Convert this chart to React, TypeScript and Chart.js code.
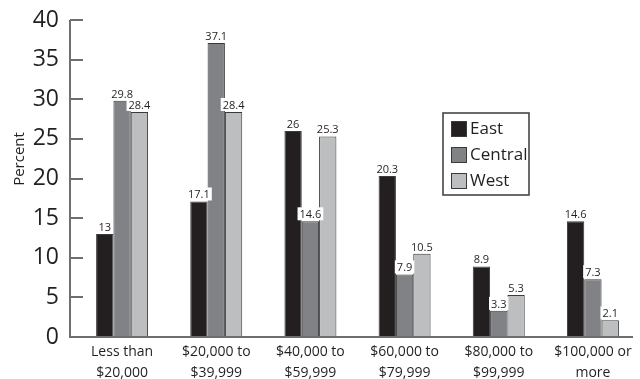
import React, { useEffect, useRef } from "react";
import { Chart, registerables } from "chart.js";

Chart.register(...registerables);

// Income brackets (two-line category labels)
const categories: string[][] = [
  ["Less than", "$20,000"],
  ["$20,000 to", "$39,999"],
  ["$40,000 to", "$59,999"],
  ["$60,000 to", "$79,999"],
  ["$80,000 to", "$99,999"],
  ["$100,000 or", "more"],
];

// Percent of households per region
const eastValues = [13, 17.1, 26, 20.3, 8.9, 14.6];
const centralValues = [29.8, 37.1, 14.6, 7.9, 3.3, 7.3];
const westValues = [28.4, 28.4, 25.3, 10.5, 5.3, 2.1];

const yTicks = [0, 5, 10, 15, 20, 25, 30, 35, 40];

const FONT = "'Open Sans', 'Noto Sans', sans-serif";
const TEXT = "#231f20";
const AXIS = "#6d6e71";
const EDGE = "#3a3a3c";

const seriesNames = ["East", "Central", "West"];
const seriesColors = ["#231f20", "#808285", "#bcbec0"];

// Axis lines, inward tick marks, value labels, y title and boxed legend
const decorations = {
  id: "decorations",
  afterDatasetsDraw(chart: any) {
    const ctx = chart.ctx as CanvasRenderingContext2D;
    const area = chart.chartArea;
    const y = chart.scales.y;
    const axisX = area.left - 5;

    ctx.save();

    // value labels above bars
    ctx.font = `11px ${FONT}`;
    ctx.textAlign = "center";
    ctx.textBaseline = "alphabetic";
    chart.data.datasets.forEach((ds: any, di: number) => {
      const meta = chart.getDatasetMeta(di);
      meta.data.forEach((bar: any, i: number) => {
        const label = String(ds.data[i]);
        const w = ctx.measureText(label).width + 4;
        ctx.fillStyle = "#ffffff";
        ctx.fillRect(bar.x - w / 2, bar.y - 14, w, 13);
        ctx.fillStyle = TEXT;
        ctx.fillText(label, bar.x, bar.y - 3);
      });
    });

    // axes
    ctx.strokeStyle = AXIS;
    ctx.lineWidth = 2;
    ctx.beginPath();
    ctx.moveTo(axisX, area.top);
    ctx.lineTo(axisX, area.bottom + 1);
    ctx.moveTo(axisX, area.bottom);
    ctx.lineTo(area.right - 7, area.bottom);
    yTicks.forEach((t) => {
      const py = Math.round(y.getPixelForValue(t));
      ctx.moveTo(axisX, py);
      ctx.lineTo(axisX + 13, py);
    });
    ctx.stroke();

    // y-axis title
    ctx.fillStyle = TEXT;
    ctx.font = `15px ${FONT}`;
    ctx.translate(20, 159);
    ctx.rotate(-Math.PI / 2);
    ctx.textAlign = "center";
    ctx.textBaseline = "middle";
    ctx.fillText("Percent", 0, 0);
    ctx.setTransform(1, 0, 0, 1, 0, 0);

    // legend
    const lx = 443;
    const ly = 113;
    ctx.fillStyle = "#ffffff";
    ctx.fillRect(lx, ly, 86, 82);
    ctx.strokeStyle = EDGE;
    ctx.lineWidth = 1.5;
    ctx.strokeRect(lx, ly, 86, 82);
    ctx.font = `17px ${FONT}`;
    ctx.textAlign = "left";
    ctx.textBaseline = "middle";
    seriesNames.forEach((name, i) => {
      const cy = 129 + i * 26;
      ctx.fillStyle = seriesColors[i];
      ctx.fillRect(451, cy - 8, 16, 16);
      ctx.strokeStyle = EDGE;
      ctx.lineWidth = 1;
      ctx.strokeRect(451.5, cy - 7.5, 15, 15);
      ctx.fillStyle = TEXT;
      ctx.fillText(name, 470, cy);
    });

    ctx.restore();
  },
};

export default function App() {
  const canvasRef = useRef<HTMLCanvasElement | null>(null);

  useEffect(() => {
    document.body.style.margin = "0";
    const canvas = canvasRef.current;
    if (!canvas) return;

    const makeSet = (label: string, data: number[], color: string) => ({
      label,
      data,
      backgroundColor: color,
      borderColor: EDGE,
      borderWidth: 1,
      barPercentage: 1,
      categoryPercentage: 0.552,
    });

    const chart = new Chart(canvas, {
      type: "bar",
      data: {
        labels: categories,
        datasets: [
          makeSet(seriesNames[0], eastValues, seriesColors[0]),
          makeSet(seriesNames[1], centralValues, seriesColors[1]),
          makeSet(seriesNames[2], westValues, seriesColors[2]),
        ],
      },
      options: {
        animation: false,
        responsive: false,
        devicePixelRatio: 1,
        layout: { padding: { top: 20, right: 0, left: 0, bottom: 0 } },
        plugins: {
          legend: { display: false },
          tooltip: { enabled: false },
          title: { display: false },
        },
        scales: {
          x: {
            offset: true,
            grid: { display: false },
            border: { display: false },
            ticks: {
              color: TEXT,
              font: { family: FONT, size: 14, lineHeight: 1.5 },
              padding: -3,
              maxRotation: 0,
              autoSkip: false,
            },
            afterFit: (scale: any) => {
              scale.height = 42;
            },
          },
          y: {
            min: 0,
            max: 40,
            grid: { display: false },
            border: { display: false },
            ticks: {
              stepSize: 5,
              color: TEXT,
              font: { family: FONT, size: 23 },
              padding: 8,
            },
            afterFit: (scale: any) => {
              scale.width = 75;
              scale.paddingTop = 0;
              scale.paddingBottom = 0;
            },
          },
        },
      },
      plugins: [decorations],
    });

    return () => chart.destroy();
  }, []);

  return <canvas ref={canvasRef} width={640} height={379} style={{ display: "block" }} />;
}
